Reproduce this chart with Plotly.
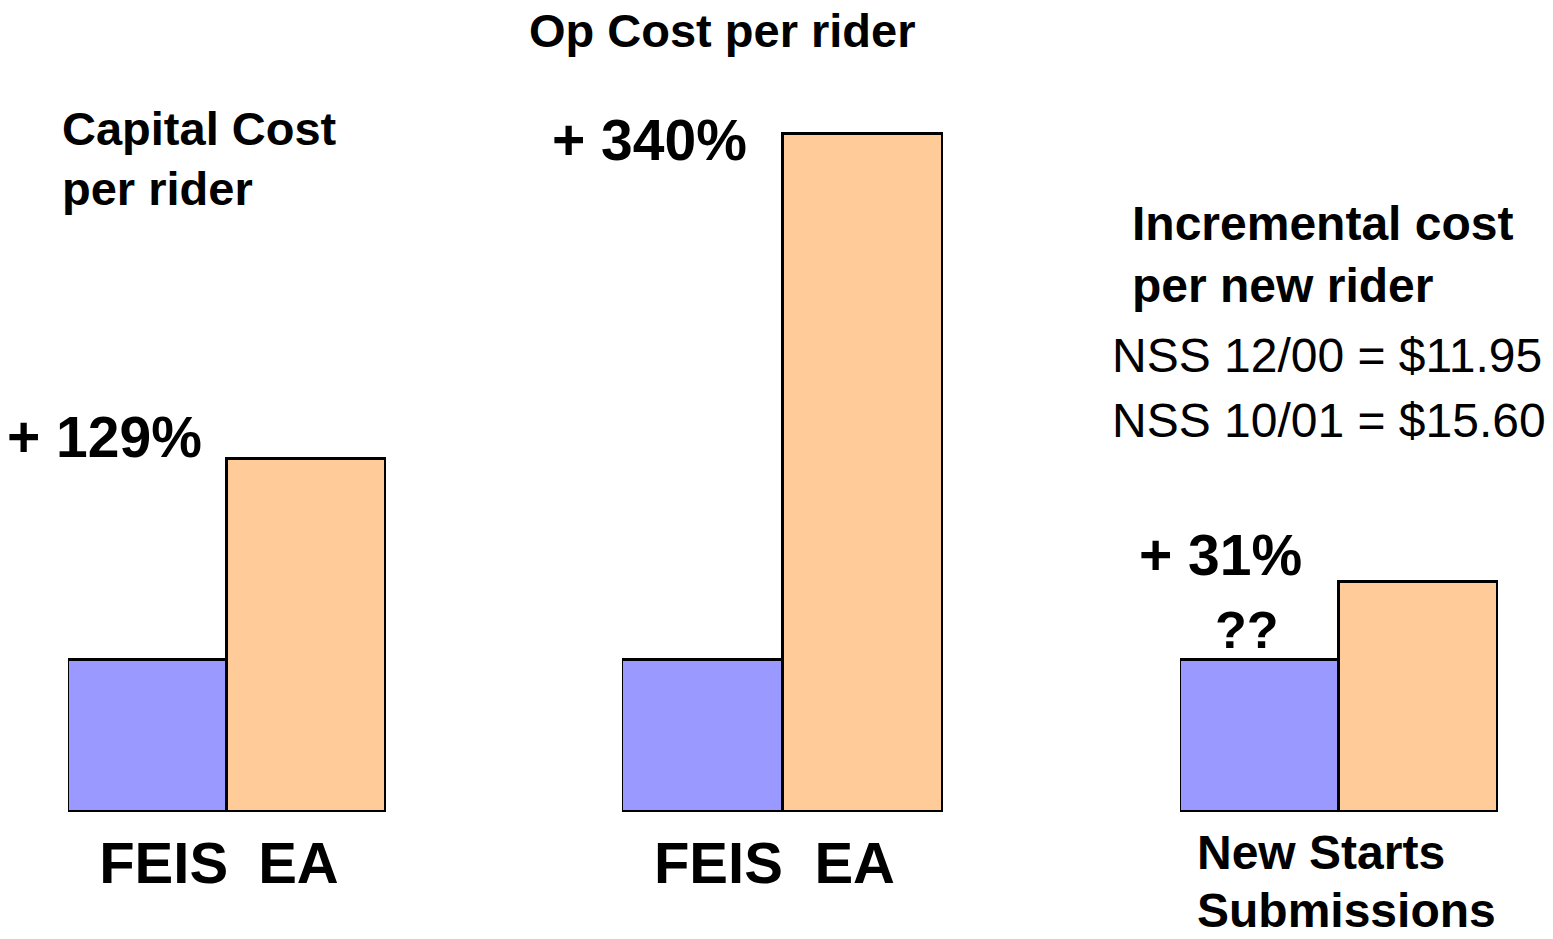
import plotly.graph_objects as go
from plotly.subplots import make_subplots

categories = ["FEIS", "EA"]
tick_labels = ["\u00a0\u00a0FEIS", "EA\u00a0"]
capital_cost = [1.0, 2.32]
op_cost = [1.0, 4.46]
new_starts = [1.0, 1.51]

bar_colors = ["#9999FF", "#FFCC99"]
W, H = 1553, 939
OFF = 8  # page body margin
FONT = "Arial, Liberation Sans, sans-serif"


def px_x(v):
    return (v - OFF) / W


def px_y(v):
    return 1 - (v - OFF) / H


fig = make_subplots(rows=1, cols=3, shared_yaxes=True)
for i, vals in enumerate([capital_cost, op_cost, new_starts], start=1):
    fig.add_trace(go.Bar(
        x=categories, y=vals,
        marker=dict(color=bar_colors, line=dict(color="black", width=3)),
        showlegend=False, hoverinfo="x+y",
    ), row=1, col=i)

domains = [(68, 386), (622, 943), (1180, 1498)]
for i, (a, b) in enumerate(domains, start=1):
    fig.update_xaxes(
        domain=[px_x(a), px_x(b)], range=[-0.5, 1.5],
        showgrid=False, zeroline=False, showline=False, ticks="",
        tickvals=categories, ticktext=tick_labels,
        showticklabels=(i < 3), ticklabelstandoff=12,
        tickfont=dict(family=FONT, size=58, color="black", weight="bold"),
        row=1, col=i,
    )
fig.update_yaxes(range=[0, 5], domain=[px_y(812), px_y(52)],
                 showgrid=False, zeroline=False, showline=False,
                 showticklabels=False, ticks="")


def note(text, x, y, size, bold=True, xanchor="left"):
    fig.add_annotation(
        text=text, x=px_x(x), y=px_y(y), xref="paper", yref="paper",
        xanchor=xanchor, yanchor="middle", showarrow=False,
        font=dict(family=FONT, size=size, color="black",
                  weight="bold" if bold else "normal"),
    )


note("Op Cost per rider", 722, 31, 47, xanchor="center")
note("Capital Cost", 60, 128, 47)
note("per rider", 60, 188, 47)
note("+ 129%", 5, 437, 57)
note("+ 340%", 550, 140, 57)
note("Incremental cost", 1130, 223, 48)
note("per new rider", 1130, 285, 48)
note("NSS 12/00 = $11.95", 1110, 355, 48, bold=False)
note("NSS 10/01 = $15.60", 1110, 420, 48, bold=False)
note("+ 31%", 1137, 555, 57)
note("??", 1247, 630, 52, xanchor="center")
note("New Starts", 1195, 852, 48)
note("Submissions", 1195, 910, 48)

fig.update_layout(
    width=W, height=H, bargap=0,
    margin=dict(l=0, r=0, t=0, b=0),
    paper_bgcolor="white", plot_bgcolor="white",
)

fig.write_html("out.html")
